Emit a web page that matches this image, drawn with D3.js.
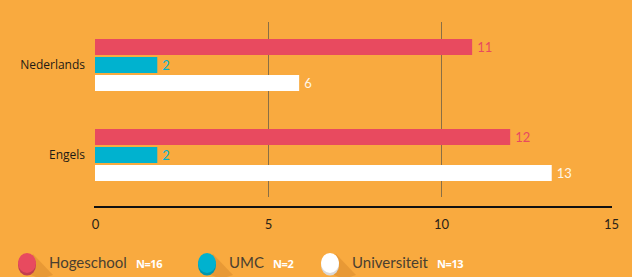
<!DOCTYPE html>
<html>
<head>
<meta charset="utf-8">
<script src="https://cdn.jsdelivr.net/npm/d3@7"></script>
<style>
  body { margin: 0; background: #F9AA3F; }
  svg { display: block; }
</style>
</head>
<body>
<script>
// data
const categories = ['Nederlands', 'Engels']
const series = ['Hogeschool', 'UMC', 'Universiteit']
const seriesN = ['N=16', 'N=2', 'N=13']
const hogeschool = [10.9, 12]
const umc = [1.8, 1.8]
const universiteit = [5.9, 13.2]
const xTicks = [0, 5, 10, 15]

const colors = ['#E84A5F', '#00B2CF', '#FFFFFF']
const values = [hogeschool, umc, universiteit]

const width = 632, height = 277

const svg = d3.select('body').append('svg')
  .attr('width', width)
  .attr('height', height)

svg.append('rect').attr('width', width).attr('height', height).attr('fill', '#F9AA3F')

// scales
const x = d3.scaleLinear().domain([0, 15]).range([95, 614])
const y0 = d3.scaleBand().domain(categories).range([20, 200])
const y1 = d3.scaleBand().domain(series).range([0, 52]).paddingInner(1 / 9)

// gridlines op 5 en 10
svg.append('g')
  .selectAll('line')
  .data(xTicks.filter(d => d > 0 && d < 15))
  .join('line')
    .attr('x1', d => x(d) + 0.5)
    .attr('x2', d => x(d) + 0.5)
    .attr('y1', 22)
    .attr('y2', 197)
    .attr('stroke', '#8a6f45')
    .attr('stroke-width', 1)

// bars
const groups = svg.append('g')
  .selectAll('g')
  .data(categories)
  .join('g')
    .attr('transform', d => `translate(0,${y0(d) + y0.bandwidth() / 2 - 26})`)

groups.selectAll('rect')
  .data((c, ci) => series.map((s, si) => ({s, si, v: values[si][ci]})))
  .join('rect')
    .attr('x', x(0))
    .attr('y', d => y1(d.s))
    .attr('width', d => x(d.v) - x(0))
    .attr('height', y1.bandwidth())
    .attr('fill', d => colors[d.si])

groups.selectAll('text.val')
  .data((c, ci) => series.map((s, si) => ({s, si, v: values[si][ci]})))
  .join('text')
    .attr('class', 'val')
    .attr('x', d => x(d.v) + 5)
    .attr('y', d => y1(d.s) + y1.bandwidth() / 2)
    .attr('dy', '0.36em')
    .attr('fill', d => d.si === 2 ? '#FFF6E8' : colors[d.si])
    .style('font-family', 'Lato, sans-serif')
    .style('font-size', '13px')
    .text(d => d3.format('.0f')(d.v))

// category labels
svg.append('g')
  .selectAll('text')
  .data(categories)
  .join('text')
    .attr('x', 85)
    .attr('y', d => y0(d) + y0.bandwidth() / 2)
    .attr('dy', '0.36em')
    .attr('text-anchor', 'end')
    .attr('fill', '#1e1a14')
    .style('font-family', '"Open Sans", sans-serif')
    .style('font-size', '12px')
    .text(d => d)

// x axis
const axis = svg.append('g')
  .attr('transform', 'translate(0,207)')
  .call(d3.axisBottom(x).tickValues(xTicks).tickSize(0).tickPadding(10))
axis.select('.domain')
  .attr('stroke', '#111')
  .attr('stroke-width', 2.2)
  .attr('d', `M${x(0) - 1},0H${x(15) - 2}`)
axis.selectAll('text')
  .attr('fill', '#2a2217')
  .style('font-family', 'Lato, sans-serif')
  .style('font-size', '13px')
  .attr('dy', '0.9em')
axis.selectAll('.tick').filter(d => d === 15).select('text').attr('dx', -3)

// legend
const legendX = [27, 207, 330]
const legend = svg.append('g')
  .selectAll('g')
  .data(series)
  .join('g')
    .attr('transform', (d, i) => `translate(${legendX[i]},263)`)

legend.append('path')
  .attr('d', 'M-6,8 L6,-9 L26,12 L14,16 Z')
  .attr('fill', '#E39533')
  .attr('opacity', 0.8)
legend.append('ellipse')
  .attr('cx', 0).attr('cy', 2)
  .attr('rx', 9).attr('ry', 10.5)
  .attr('fill', (d, i) => d3.color(colors[i]).darker(0.5))
legend.append('ellipse')
  .attr('cx', 0).attr('cy', 0)
  .attr('rx', 9).attr('ry', 10)
  .attr('fill', (d, i) => i === 2 ? '#FFFFFF' : colors[i])
legend.filter((d, i) => i === 2).select('ellipse')
  .attr('fill', '#d9d9d9')

const nameText = legend.append('text')
  .attr('x', 22)
  .attr('y', 5)
  .attr('fill', '#4a3f30')
  .style('font-family', 'Lato, sans-serif')
  .style('font-size', '15px')
  .text(d => d)

legend.append('text')
  .attr('x', function(d, i) {
    return 22 + nameText.nodes()[i].getComputedTextLength() + 9
  })
  .attr('y', 5)
  .attr('fill', '#FFFFFF')
  .style('font-family', '"Open Sans", sans-serif')
  .style('font-weight', 'bold')
  .style('font-size', '11px')
  .style('letter-spacing', '-0.4px')
  .text((d, i) => seriesN[i])
</script>
</body>
</html>
